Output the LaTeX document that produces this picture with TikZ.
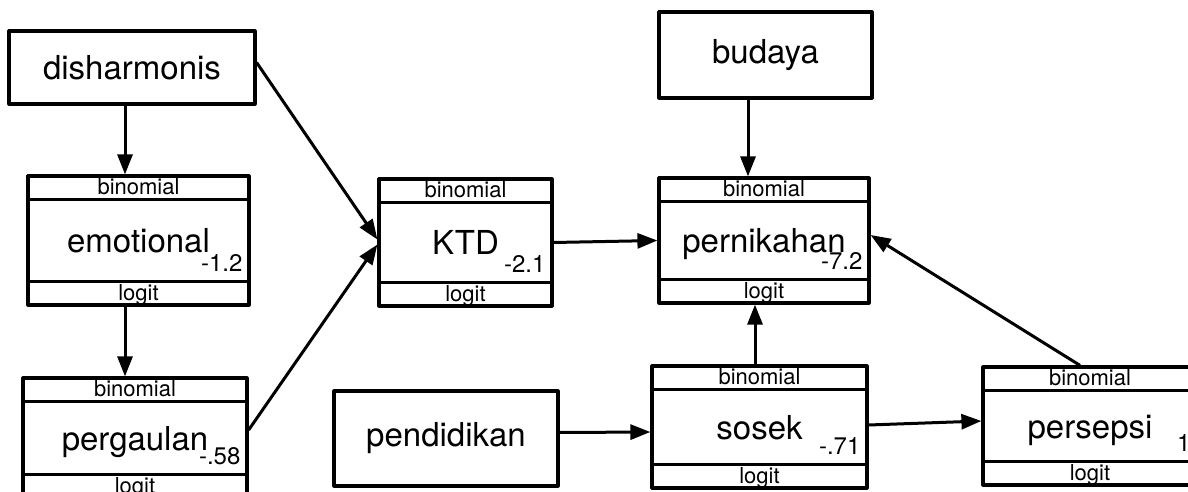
\documentclass[tikz,border=0pt]{standalone}
\usepackage{fontspec}
\setmainfont{TeX Gyre Heros}
\usetikzlibrary{arrows.meta}
\tikzstyle{boxline} = [line width=3.2pt, line join=round]
\tikzstyle{plainbox} = [rectangle, draw=black, boxline, font=\fontsize{33}{40}\selectfont]
\tikzstyle{glmbox} = [rectangle, draw=black, boxline, inner sep=0pt]
\tikzstyle{band} = [inner sep=0pt, anchor=base, font=\fontsize{22}{26}\selectfont]
\tikzstyle{mainlab} = [inner sep=0pt, anchor=base, font=\fontsize{33}{40}\selectfont]
\tikzstyle{vallab} = [inner sep=0pt, anchor=base east, font=\fontsize{24}{28}\selectfont]
\tikzstyle{arrow} = [line width=3pt, -{Triangle[length=20pt, width=15pt]}]
% name, centre, width, height, label, value
\newcommand{\glm}[6]{%
  \node [glmbox, minimum width=#3, minimum height=#4] (#1) at (#2) {};
  \draw [boxline] ([yshift=-25pt]#1.north west) -- ([yshift=-25pt]#1.north east);
  \draw [boxline] ([yshift=25pt]#1.south west) -- ([yshift=25pt]#1.south east);
  \node [band] (#1-fam) at ([yshift=-20pt]#1.north) {binomial};
  \node [band] (#1-link) at ([yshift=6pt]#1.south) {logit};
  \node [mainlab] (#1-lab) at ([yshift=-12pt]#1.center) {#5};
  \node [vallab] (#1-val) at ([xshift=-8pt, yshift=35pt]#1.south east) {#6};
}

\begin{document}
\begin{tikzpicture}[x=1pt, y=-1pt]%
	\clip (0,0) rectangle (1188,492);%
	% plain boxes
	\node [plainbox, minimum width=246, minimum height=73] (dis) at (132,67.5) {disharmonis};
	\node [plainbox, minimum width=213, minimum height=86] (bud) at (765.5,55) {budaya};
	\node [plainbox, minimum width=224, minimum height=95] (pend) at (446,438.5) {pendidikan};
	% binomial boxes
	\glm{emo}{138.5,240.5}{221}{129}{emotional}{-1.2}
	\glm{perg}{135,438}{224}{120}{pergaulan}{-.58}
	\glm{ktd}{465.5,242.5}{173}{127}{KTD}{-2.1}
	\glm{nikah}{764,240.5}{210}{125}{pernikahan}{-7.2}
	\glm{sos}{759.5,427}{215}{122}{sosek}{-.71}
	\glm{pers}{1090,426}{214}{118}{persepsi}{1}
	% paths
	\draw [arrow] ([xshift=-7pt]dis.south) -- ([xshift=-13.5pt]emo.north);
	\draw [arrow] ([xshift=-13.5pt]emo.south) -- ([xshift=-10pt]perg.north);
	\draw [arrow] ([yshift=5pt]dis.east) -- ([yshift=3pt]ktd.west);
	\draw [arrow] ([yshift=8pt]perg.east) -- ([yshift=-2pt]ktd.west);
	\draw [arrow] (ktd.east) -- (nikah.west);
	\draw [arrow] ([xshift=-17.5pt]bud.south) -- ([xshift=-16pt]nikah.north);
	\draw [arrow] ([xshift=-4.5pt]sos.north) -- ([xshift=-9pt]nikah.south);
	\draw [arrow] ([yshift=6pt]pend.east) -- ([yshift=-5pt]sos.west);
	\draw [arrow] ([yshift=2pt]sos.east) -- ([yshift=5pt]pers.west);
	\draw [arrow] ([xshift=-10pt]pers.north) -- ([yshift=5.5pt]nikah.east);
\end{tikzpicture}
\end{document}
